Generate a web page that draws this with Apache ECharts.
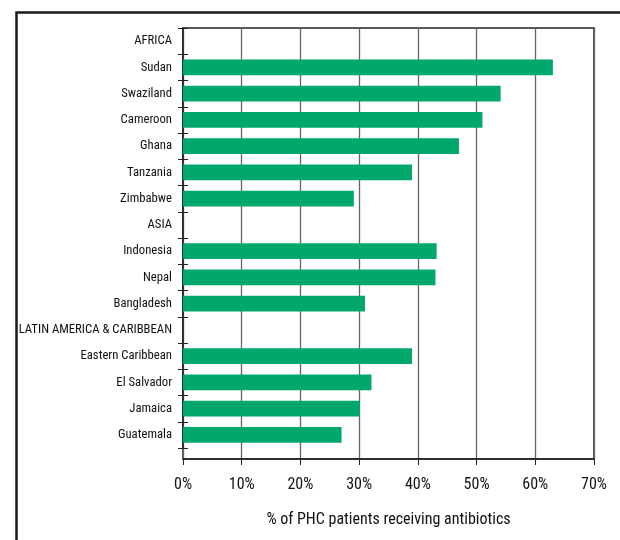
<!DOCTYPE html>
<html>
<head>
<meta charset="utf-8">
<script src="https://cdn.jsdelivr.net/npm/echarts@6/dist/echarts.min.js"></script>
<style>
html,body{margin:0;padding:0;background:#fff;}
#chart{width:620px;height:540px;}
</style>
</head>
<body>
<div id="chart"></div>
<script>
var categories = ['AFRICA','Sudan','Swaziland','Cameroon','Ghana','Tanzania','Zimbabwe','ASIA','Indonesia','Nepal','Bangladesh','LATIN AMERICA & CARIBBEAN','Eastern Caribbean','El Salvador','Jamaica','Guatemala'];
var values = [null,63,54.1,51,47,39,29.1,null,43.2,43,31,null,39,32.1,30.1,27];
var xTicks = [0,10,20,30,40,50,60,70];
var xTitle = '% of PHC patients receiving antibiotics';

var FONT = "'Roboto Condensed','DejaVu Sans Condensed',sans-serif";
var chart = echarts.init(document.getElementById('chart'), null, {renderer:'canvas'});
chart.setOption({
  animation:false,
  backgroundColor:'#fff',
  graphic:[{
    type:'rect', left:14, top:10, silent:true,
    shape:{x:0,y:0,width:700,height:600},
    style:{fill:'none', stroke:'#1a1a1a', lineWidth:2.5}
  }],
  grid:[
    {left:183, right:26, top:28, bottom:81, show:true, borderColor:'#222', borderWidth:1.5, backgroundColor:'transparent', containLabel:false, outerBoundsMode:'none'},
    {left:183, right:26, top:28, height:420, containLabel:false, outerBoundsMode:'none'}
  ],
  xAxis:[
    {gridIndex:0, type:'value', min:xTicks[0], max:xTicks[xTicks.length-1], interval:10,
     axisLine:{show:true, lineStyle:{color:'#222', width:1.5}},
     axisTick:{show:true, length:6, lineStyle:{color:'#222'}},
     splitLine:{show:true, lineStyle:{color:'#666', width:1.3}},
     axisLabel:{formatter:'{value}%', fontFamily:FONT, fontSize:16, color:'#111', margin:18},
     name:xTitle, nameLocation:'middle', nameGap:53,
     nameTextStyle:{fontFamily:FONT, fontSize:16, color:'#111'}},
    {gridIndex:1, type:'value', min:0, max:70, show:false}
  ],
  yAxis:[
    {gridIndex:0, type:'value', show:false},
    {gridIndex:1, type:'category', data:categories, inverse:true,
     axisLine:{show:true, lineStyle:{color:'#222', width:1.5}},
     axisTick:{show:true, length:5, lineStyle:{color:'#222'}},
     axisLabel:{fontFamily:FONT, fontSize:12.7, color:'#111', margin:11}},
    {gridIndex:1, type:'category', data:categories, inverse:true, position:'left', offset:0,
     axisLine:{show:false},
     axisTick:{show:true, inside:true, length:5, lineStyle:{color:'#222'}},
     axisLabel:{show:false}}
  ],
  series:[{
    type:'bar', xAxisIndex:1, yAxisIndex:1, data:values,
    barCategoryGap:'40%', itemStyle:{color:'#00a96b'}
  }]
});
</script>
</body>
</html>
